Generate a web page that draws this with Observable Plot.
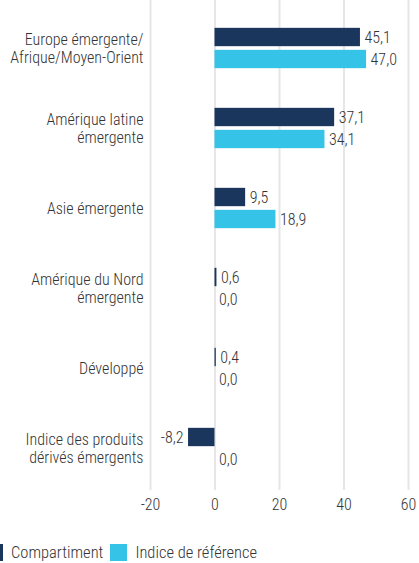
<!DOCTYPE html>
<html>
<head>
<meta charset="utf-8">
<script src="https://cdn.jsdelivr.net/npm/d3@7"></script>
<script src="https://cdn.jsdelivr.net/npm/@observablehq/plot@0.6"></script>
<style>
  html, body { margin: 0; padding: 0; background: #fff; overflow: hidden; }
  body { width: 419px; height: 563px; font-family: "Roboto Condensed", sans-serif; font-weight: 300; }
  #legend { display: flex; align-items: center; margin-top: 24px; margin-left: -14px; font-size: 16.5px; color: #333; line-height: 17px; }
  .sw { display: inline-block; width: 17px; height: 17px; margin-right: 8px; }
  .item { display: flex; align-items: center; margin-right: 7px; }
</style>
</head>
<body>
<div id="chart"></div>
<div id="legend"></div>
<script>
const categories = [
  "Europe émergente/\nAfrique/Moyen-Orient",
  "Amérique latine\némergente",
  "Asie émergente",
  "Amérique du Nord\némergente",
  "Développé",
  "Indice des produits\ndérivés émergents"
];
const compartiment = [45.1, 37.1, 9.5, 0.6, 0.4, -8.2];
const indice = [47.0, 34.1, 18.9, 0.0, 0.0, 0.0];
const seriesNames = ["Compartiment", "Indice de référence"];
const colors = ["#1b365d", "#35c4e8"];
const xTicks = [-20, 0, 20, 40, 60];

const rows = [];
categories.forEach((c, i) => {
  rows.push({category: c, series: seriesNames[0], value: compartiment[i]});
  rows.push({category: c, series: seriesNames[1], value: indice[i]});
});
const fmt = v => v.toFixed(1).replace(".", ",");

const H = 520, mBottom = 30, rTop = 6;
const rBottom = H - mBottom;
const B = (rBottom - rTop) / categories.length;
const barH = 19, gap = 3;
const insetA = B / 2 - barH - gap / 2;
const insetB = B / 2 + gap / 2;
const first = rows.filter(d => d.series === seriesNames[0]);
const second = rows.filter(d => d.series === seriesNames[1]);
const fontFam = '"Roboto Condensed", sans-serif';
const off = (barH + gap) / 2;

const chart = Plot.plot({
  width: 419,
  height: H,
  marginTop: 0,
  marginBottom: mBottom,
  marginLeft: 150,
  marginRight: 11,
  style: {fontFamily: fontFam, fontSize: "16px", fontWeight: 300, color: "#333", background: "#fff"},
  x: {domain: [-20, 60], ticks: xTicks},
  y: {domain: categories, range: [rTop, rBottom], padding: 0},
  marks: [
    Plot.gridX(xTicks, {stroke: "#e6e6e6", strokeWidth: 2, strokeOpacity: 1}),
    Plot.barX(first, {x: "value", y: "category", fill: colors[0], insetTop: insetA, insetBottom: insetB}),
    Plot.barX(second, {x: "value", y: "category", fill: colors[1], insetTop: insetB, insetBottom: insetA}),
    Plot.text(first.filter(d => d.value >= 0), {x: "value", y: "category", dy: -off, dx: 4, text: d => fmt(d.value),
      textAnchor: "start", fill: "#333", fontSize: 16}),
    Plot.text(first.filter(d => d.value < 0), {x: "value", y: "category", dy: -off, dx: -5, text: d => fmt(d.value),
      textAnchor: "end", fill: "#333", fontSize: 16}),
    Plot.text(second, {x: "value", y: "category", dy: off, dx: 4, text: d => fmt(d.value),
      textAnchor: "start", fill: "#333", fontSize: 16}),
    Plot.axisX({ticks: xTicks, tickSize: 0, tickPadding: 8, tickFormat: d => String(d), fontSize: 16, fill: "#333", label: null}),
    Plot.axisY({tickSize: 0, tickPadding: 7, fontSize: 16, fill: "#333", lineHeight: 1.08, label: null})
  ]
});
document.getElementById("chart").appendChild(chart);

const legend = document.getElementById("legend");
seriesNames.forEach((s, i) => {
  const item = document.createElement("span");
  item.className = "item";
  const sw = document.createElement("span");
  sw.className = "sw";
  sw.style.background = colors[i];
  item.appendChild(sw);
  item.appendChild(document.createTextNode(s));
  legend.appendChild(item);
});
</script>
</body>
</html>
